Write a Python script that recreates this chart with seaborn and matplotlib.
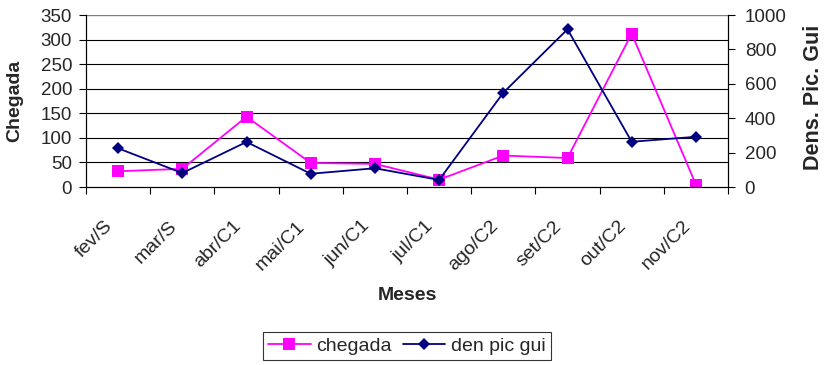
import numpy as np
import pandas as pd
import matplotlib
matplotlib.use("Agg")
import matplotlib.pyplot as plt
import matplotlib.transforms as mtransforms
import seaborn as sns

meses = ["fev/S", "mar/S", "abr/C1", "mai/C1", "jun/C1",
         "jul/C1", "ago/C2", "set/C2", "out/C2", "nov/C2"]
chegada = [32, 37, 143, 49, 47, 15, 64, 59, 312, 5]
den_pic_gui = [225, 81, 262, 77, 109, 41, 548, 917, 263, 292]

sns.set_style("white")
plt.rcParams["font.family"] = ["Liberation Sans", "DejaVu Sans"]

df = pd.DataFrame({"pos": np.arange(len(meses)), "mes": meses,
                   "chegada": chegada, "den": den_pic_gui})

fig = plt.figure(figsize=(8.24, 3.65), dpi=100)
ax = fig.add_axes([86 / 824, 1 - 187 / 365, (728 - 86) / 824, (187 - 15) / 365])
ax2 = ax.twinx()

sns.lineplot(data=df, x="pos", y="chegada", ax=ax, color="#FF00FF",
             marker="s", markersize=8, markeredgewidth=0, linewidth=1.3,
             label="chegada", legend=False)
sns.lineplot(data=df, x="pos", y="den", ax=ax2, color="#000080",
             marker="D", markersize=6.5, markeredgewidth=0, linewidth=1.3,
             label="den pic gui", legend=False)

ax.set_xlim(-0.5, len(meses) - 0.5)
ax.set_ylim(0, 350)
ax2.set_ylim(0, 1000)
ax.set_yticks(np.arange(0, 351, 50))
ax2.set_yticks(np.arange(0, 1001, 200))

# category boundaries as major ticks, labels on minor ticks at centres
ax.set_xticks(np.arange(-0.5, len(meses), 1))
ax.set_xticklabels([])
ax.set_xticks(np.arange(len(meses)), minor=True)
ax.set_xticklabels(meses, minor=True, rotation=45, ha="right",
                   rotation_mode="anchor", fontsize=14)
ax.tick_params(axis="x", which="minor", length=0, pad=22)
ax.tick_params(axis="x", which="major", direction="out", length=5,
               width=0.8, color="black", bottom=True)
ax.tick_params(axis="y", direction="out", length=5, width=0.8,
               color="black", left=True, labelsize=13.5, pad=5)
ax2.tick_params(axis="y", direction="out", length=5, width=0.8,
                color="black", right=True, labelsize=13.5, pad=7)

shift = mtransforms.ScaledTranslation(-14 / 100, 0, fig.dpi_scale_trans)
for lbl in ax.get_xticklabels(minor=True):
    lbl.set_transform(lbl.get_transform() + shift)

for y in range(50, 301, 50):
    ax.axhline(y, color="black", linewidth=0.8, zorder=0)
ax.axhline(350, color="#808080", linewidth=1.0, zorder=0)

for a in (ax, ax2):
    a.spines["top"].set_visible(False)
    for s in ("left", "right", "bottom"):
        a.spines[s].set_color("black")
        a.spines[s].set_linewidth(0.8)

ax.set_xlabel("Meses", fontsize=14, fontweight="bold")
ax.set_ylabel("Chegada", fontsize=14, fontweight="bold")
ax2.set_ylabel("Dens. Pic. Gui", fontsize=15.5, fontweight="bold")
ax.xaxis.set_label_coords(0.5, -0.58)
ax.yaxis.set_label_coords(-63 / 642, 0.5)
ax2.yaxis.set_label_coords((803 - 86) / 642, (187 - 97) / 172)

h1, l1 = ax.get_legend_handles_labels()
h2, l2 = ax2.get_legend_handles_labels()
leg = fig.legend(h1 + h2, l1 + l2, loc="center", ncol=2,
                 bbox_to_anchor=(407 / 824, 1 - 346 / 365), frameon=True,
                 fancybox=False, fontsize=14, handlelength=2.2,
                 columnspacing=0.55, handletextpad=0.3, borderpad=0.25,
                 borderaxespad=0)
leg.get_frame().set_edgecolor("black")
leg.get_frame().set_linewidth(0.8)

fig.savefig("out.png", dpi=100)
